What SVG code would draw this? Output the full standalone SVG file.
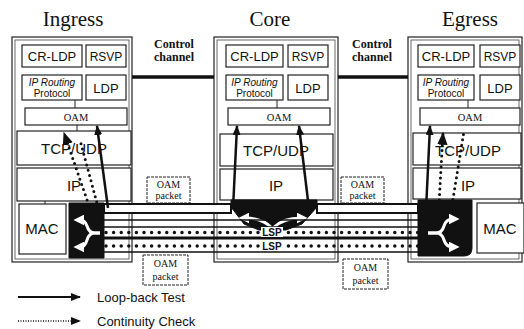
<svg xmlns="http://www.w3.org/2000/svg" width="524" height="329" viewBox="0 0 524 329">
<style>
.bx{fill:#fff;stroke:#222;stroke-width:1.2}
.in{fill:none;stroke:#444;stroke-width:0.8}
.s{font-family:"Liberation Sans",Arial,sans-serif;fill:#111;text-anchor:middle}
.r{font-family:"Liberation Serif","Times New Roman",serif;fill:#111;text-anchor:middle}
.blk{fill:#111;stroke:#111}
.lb{fill:none;stroke:#111;stroke-width:2.5}
.cc{fill:none;stroke:#111;stroke-width:3;stroke-dasharray:0 5.5;stroke-linecap:round}
.row{fill:none;stroke:#111;stroke-width:3.5;stroke-dasharray:0 7.6;stroke-linecap:round}
.wa{fill:none;stroke:#fff;stroke-width:3}
.pk{fill:#fff;stroke:#222;stroke-width:1;stroke-dasharray:3 1}
</style>
<defs>
<marker id="ah" viewBox="0 0 10 8" refX="9" refY="4" markerWidth="10" markerHeight="8" markerUnits="userSpaceOnUse" orient="auto"><path d="M0,0 L10,4 L0,8 z" fill="#111"/></marker>
<marker id="ahb" viewBox="0 0 10 8" refX="9" refY="4" markerWidth="13" markerHeight="11" markerUnits="userSpaceOnUse" orient="auto"><path d="M0,0 L10,4 L0,8 z" fill="#111"/></marker>
<marker id="wh" viewBox="0 0 10 10" refX="4" refY="5" markerWidth="11" markerHeight="11" markerUnits="userSpaceOnUse" orient="auto"><path d="M0,0 L10,5 L0,10 z" fill="#fff"/></marker>
</defs>
<rect width="524" height="329" fill="#fff"/>

<g id="titles">
<text class="r" x="73" y="26" font-size="21">Ingress</text>
<text class="r" x="270" y="26" font-size="21">Core</text>
<text class="r" x="470" y="26" font-size="21">Egress</text>
<text class="r" x="174" y="48" font-size="12" font-weight="bold">Control</text>
<text class="r" x="174" y="61" font-size="12" font-weight="bold">channel</text>
<text class="r" x="372" y="48" font-size="12" font-weight="bold">Control</text>
<text class="r" x="372" y="61" font-size="12" font-weight="bold">channel</text>
</g>

<g id="ingress">
<rect class="bx" x="12" y="37" width="120" height="225"/>
<rect class="in" x="15" y="40" width="114" height="219"/>
<rect class="bx" x="22" y="45" width="60" height="22"/>
<text class="s" x="52" y="61" font-size="13">CR-LDP</text>
<rect class="bx" x="86" y="45" width="40" height="22"/>
<text class="s" x="106" y="61" font-size="12">RSVP</text>
<rect class="bx" x="22" y="75" width="60" height="25"/>
<text class="s" x="52" y="86" font-size="10"><tspan font-style="italic">IP Routing</tspan></text>
<text class="s" x="52" y="97" font-size="10">Protocol</text>
<rect class="bx" x="86" y="75" width="40" height="25"/>
<text class="s" x="106" y="93" font-size="13">LDP</text>
<line x1="75" y1="100" x2="75" y2="108" stroke="#222"/>
<rect class="bx" x="25" y="108" width="102" height="17"/>
<text class="r" x="76" y="121" font-size="10.5">OAM</text>
<rect class="bx" x="17" y="131" width="114" height="34"/>
<text class="s" x="74" y="154" font-size="15">TCP/UDP</text>
<rect class="bx" x="17" y="168" width="114" height="33"/>
<text class="s" x="74" y="191" font-size="15">IP</text>
<rect class="bx" x="19" y="204" width="47" height="50"/>
<text class="s" x="42" y="234" font-size="15">MAC</text>
<path class="blk" d="M69,203 H104 V258 H69 Z"/>
<path class="wa" d="M100,233 L95,233 Q89,233 87,226 Q85,220 80,220" marker-end="url(#wh)"/>
<path class="wa" d="M100,233 L95,233 Q89,233 87,240 Q85,247 80,247" marker-end="url(#wh)"/>
</g>

<g id="core">
<rect class="bx" x="214" y="37" width="124" height="225"/>
<rect class="in" x="217" y="40" width="118" height="219"/>
<rect class="bx" x="226" y="45" width="57" height="22"/>
<text class="s" x="254.5" y="61" font-size="13">CR-LDP</text>
<rect class="bx" x="288" y="45" width="40" height="22"/>
<text class="s" x="308" y="61" font-size="12">RSVP</text>
<rect class="bx" x="226" y="75" width="57" height="25"/>
<text class="s" x="254.5" y="86" font-size="10"><tspan font-style="italic">IP Routing</tspan></text>
<text class="s" x="254.5" y="97" font-size="10">Protocol</text>
<rect class="bx" x="288" y="75" width="40" height="25"/>
<text class="s" x="308" y="93" font-size="13">LDP</text>
<line x1="277" y1="100" x2="277" y2="108" stroke="#222"/>
<rect class="bx" x="228" y="108" width="102" height="17"/>
<text class="r" x="279" y="121" font-size="10.5">OAM</text>
<rect class="bx" x="220" y="134" width="113" height="32"/>
<text class="s" x="276" y="156" font-size="15">TCP/UDP</text>
<rect class="bx" x="220" y="169" width="113" height="31"/>
<text class="s" x="276" y="191" font-size="15">IP</text>
<path class="blk" d="M231,200 H317 V207 L302,224 L286,230 H259 L244,224 L231,207 Z"/>
<path class="wa" d="M272,228 Q262,218 245,218" marker-end="url(#wh)"/>
<path class="wa" d="M273,228 Q283,218 301,218" marker-end="url(#wh)"/>
</g>

<g id="egress">
<rect class="bx" x="408" y="37" width="114" height="225"/>
<rect class="in" x="411" y="40" width="108" height="219"/>
<rect class="bx" x="418" y="45" width="56" height="22"/>
<text class="s" x="446" y="61" font-size="13">CR-LDP</text>
<rect class="bx" x="480" y="45" width="40" height="22"/>
<text class="s" x="500" y="61" font-size="12">RSVP</text>
<rect class="bx" x="418" y="75" width="56" height="25"/>
<text class="s" x="446" y="86" font-size="10"><tspan font-style="italic">IP Routing</tspan></text>
<text class="s" x="446" y="97" font-size="10">Protocol</text>
<rect class="bx" x="480" y="75" width="40" height="25"/>
<text class="s" x="500" y="93" font-size="13">LDP</text>
<line x1="468" y1="100" x2="468" y2="108" stroke="#222"/>
<rect class="bx" x="420" y="108" width="100" height="17"/>
<text class="r" x="470" y="121" font-size="10.5">OAM</text>
<rect class="bx" x="413" y="133" width="108" height="32"/>
<text class="s" x="468" y="156" font-size="15">TCP/UDP</text>
<rect class="bx" x="413" y="168" width="108" height="31"/>
<text class="s" x="468" y="191" font-size="15">IP</text>
<rect class="bx" x="477" y="203" width="47" height="50"/>
<text class="s" x="500" y="234" font-size="15">MAC</text>
<path class="blk" d="M418,200 H472 V248 Q472,256 464,256 H418 Z"/>
<path class="wa" d="M428,233 L436,233 Q442,233 444,226 Q446,219 453,219" marker-end="url(#wh)"/>
<path class="wa" d="M428,233 L436,233 Q442,233 444,240 Q446,247 453,247" marker-end="url(#wh)"/>
</g>

<g id="connectors">
<line x1="132" y1="77" x2="214" y2="77" stroke="#111" stroke-width="3.5"/>
<line x1="338" y1="77" x2="408" y2="77" stroke="#111" stroke-width="3.5"/>
<rect x="104" y="204" width="127" height="9" fill="#fff" stroke="#111" stroke-width="2"/>
<rect x="317" y="204" width="101" height="9" fill="#fff" stroke="#111" stroke-width="2"/>
<line x1="104" y1="220" x2="418" y2="220" stroke="#111" stroke-width="1.5"/>
<line x1="104" y1="227" x2="418" y2="227" stroke="#111" stroke-width="1.5"/>
<line x1="104" y1="238" x2="418" y2="238" stroke="#111" stroke-width="3"/>
<line x1="104" y1="252" x2="418" y2="252" stroke="#111" stroke-width="1.5"/>
<line class="row" x1="106" y1="232.5" x2="420" y2="232.5"/>
<line class="row" x1="106" y1="246" x2="420" y2="246"/>
<rect x="261" y="227" width="22" height="10" fill="#fff"/>
<rect x="261" y="241" width="22" height="10" fill="#fff"/>
<text class="s" x="272" y="236" font-size="10" font-weight="bold">LSP</text>
<text class="s" x="272" y="250" font-size="10" font-weight="bold">LSP</text>
<path class="lb" d="M108,208 L97,126" marker-end="url(#ah)"/>
<path class="lb" d="M233,209 L237,126" marker-end="url(#ah)"/>
<path class="lb" d="M309,209 L299,126" marker-end="url(#ah)"/>
<path class="lb" d="M426,210 L430,126" marker-end="url(#ah)"/>
<path class="cc" d="M96,226 L64,133" marker-end="url(#ahb)"/>
<path class="cc" d="M101,218 L80,140"/>
<path class="cc" d="M438,222 L443,133" marker-end="url(#ahb)"/>
<path class="cc" d="M452,205 L464,131"/>
<line x1="77" y1="125" x2="77" y2="131" stroke="#222"/>
<line x1="45" y1="201" x2="45" y2="204" stroke="#222"/>
</g>

<g id="oam-packets">
<rect class="pk" x="147" y="177" width="43" height="26"/>
<text class="r" x="168.5" y="188" font-size="10">OAM</text>
<text class="r" x="168.5" y="199" font-size="10">packet</text>
<rect class="pk" x="341" y="177" width="43" height="26"/>
<text class="r" x="362.5" y="188" font-size="10">OAM</text>
<text class="r" x="362.5" y="199" font-size="10">packet</text>
<rect class="pk" x="143" y="255" width="45" height="30"/>
<text class="r" x="165.5" y="267" font-size="10">OAM</text>
<text class="r" x="165.5" y="280" font-size="10">packet</text>
<rect class="pk" x="343" y="259" width="45" height="30"/>
<text class="r" x="365.5" y="271" font-size="10">OAM</text>
<text class="r" x="365.5" y="284" font-size="10">packet</text>
</g>

<g id="legend">
<line x1="18" y1="297" x2="80" y2="297" stroke="#111" stroke-width="2" marker-end="url(#ah)"/>
<text class="s" x="97" y="302" font-size="13" style="text-anchor:start">Loop-back Test</text>
<line x1="18" y1="321" x2="80" y2="321" stroke="#111" stroke-width="1.5" stroke-dasharray="1 1.5" marker-end="url(#ah)"/>
<text class="s" x="97" y="326" font-size="13" style="text-anchor:start">Continuity Check</text>
</g>
</svg>
